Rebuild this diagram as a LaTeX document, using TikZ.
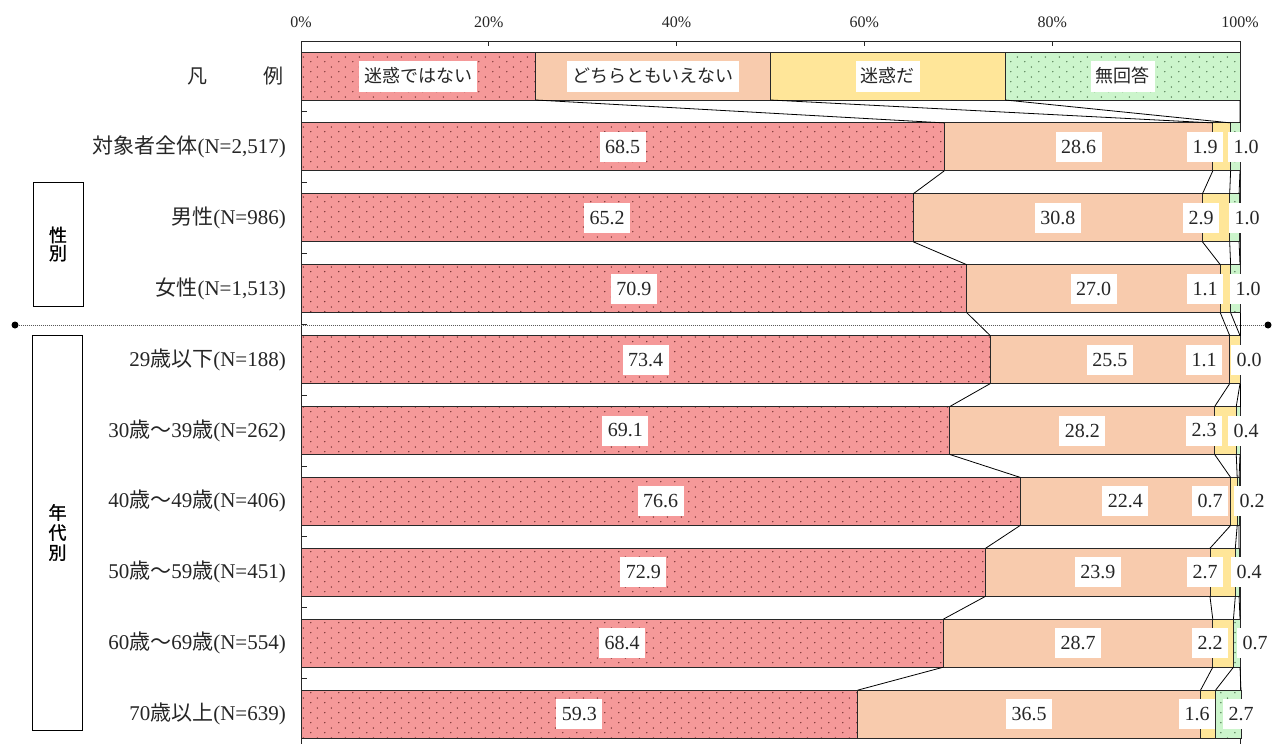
\documentclass[tikz,border=0pt]{standalone}
\usepackage{fontspec}
\setmainfont{Liberation Serif}
\newfontfamily\cjk{Noto Sans CJK JP}
\newfontfamily\cjkb[FakeBold=1.2]{Noto Sans CJK JP}
\usetikzlibrary{patterns.meta}
\definecolor{segA}{RGB}{245,153,153}
\definecolor{segB}{RGB}{248,203,173}
\definecolor{segC}{RGB}{255,230,153}
\definecolor{segD}{RGB}{204,245,204}
\definecolor{dotA}{RGB}{110,45,45}
\definecolor{dotD}{RGB}{70,110,70}
\definecolor{barline}{RGB}{40,40,40}
\tikzdeclarepattern{
  name=sparsedots, type=uncolored,
  bottom left={(0pt,0pt)}, top right={(14pt,10pt)}, tile size={(14pt,10pt)},
  code={\fill (3pt,2.5pt) circle (0.8pt); \fill (10pt,7.5pt) circle (0.8pt);}
}
\newcommand\J[1]{{\cjk #1}}
% #1 idx, #2-#5 values, #6 x of label 3, #7 x of label 4, #8 category
\newcommand\chartrow[8]{%
  \pgfmathsetmacro\cyR{76+#1*70.9}%
  \pgfmathsetmacro\cxB{301+9.39*(#2)}%
  \pgfmathsetmacro\cxC{301+9.39*(#2+#3)}%
  \pgfmathsetmacro\cxD{301+9.39*(#2+#3+#4)}%
  \pgfmathsetmacro\cxE{301+9.39*(#2+#3+#4+#5)}%
  \path[fill=segA, postaction={pattern=sparsedots, pattern color=dotA}] (301,\cyR-24) rectangle (\cxB,\cyR+24);
  \path[fill=segB] (\cxB,\cyR-24) rectangle (\cxC,\cyR+24);
  \path[fill=segC] (\cxC,\cyR-24) rectangle (\cxD,\cyR+24);
  \path[fill=segD, postaction={pattern=sparsedots, pattern color=dotD}] (\cxD,\cyR-24) rectangle (\cxE,\cyR+24);
  \draw[segline] (301,\cyR-24) rectangle (\cxB,\cyR+24);
  \draw[segline] (\cxB,\cyR-24) rectangle (\cxC,\cyR+24);
  \draw[segline] (\cxC,\cyR-24) rectangle (\cxD,\cyR+24);
  \draw[segline] (\cxD,\cyR-24) rectangle (\cxE,\cyR+24);
  \coordinate (r#1-1-t) at (\cxB,\cyR-24); \coordinate (r#1-1-b) at (\cxB,\cyR+24);
  \coordinate (r#1-2-t) at (\cxC,\cyR-24); \coordinate (r#1-2-b) at (\cxC,\cyR+24);
  \coordinate (r#1-3-t) at (\cxD,\cyR-24); \coordinate (r#1-3-b) at (\cxD,\cyR+24);
  \coordinate (r#1-4-t) at (\cxE,\cyR-24); \coordinate (r#1-4-b) at (\cxE,\cyR+24);
  \node[dlab] (v#1-1) at ({(301+\cxB)/2},\cyR) {#2};
  \node[dlab] (v#1-2) at ({(\cxB+\cxC)/2},\cyR) {#3};
  \node[dlab] (v#1-3) at (#6,\cyR) {#4};
  \node[dlab] (v#1-4) at (#7,\cyR) {#5};
  \node[catlab] (c#1) at (286,\cyR) {#8};
}
\begin{document}
\begin{tikzpicture}[x=1pt,y=-1pt,
  segline/.style={draw=barline, line width=0.9pt},
  conn/.style={draw=black, line width=0.8pt},
  axisline/.style={draw=black!85, line width=0.9pt},
  catlab/.style={anchor=east, inner sep=0pt, font=\fontsize{21}{25}\selectfont, text=black!85},
  dlab/.style={fill=white, inner xsep=5.5pt, inner ysep=0pt, minimum height=30pt, font=\fontsize{20}{24}\selectfont, text=black!85},
  leglab/.style={fill=white, inner xsep=5pt, inner ysep=0pt, minimum height=31pt, font=\cjk\fontsize{18}{22}\selectfont, text=black!85},
  axlab/.style={inner sep=0pt, font=\fontsize{16}{18}\selectfont, text=black!85},
  grpbox/.style={draw=black, line width=1pt, minimum width=50pt, inner sep=0pt, align=center, text=black},
  enddot/.style={circle, fill=black, inner sep=0pt, minimum size=7pt}]
\useasboundingbox (0,0) rectangle (1281,744);

% frame and axis
\draw[axisline] (301,41) -- (1240,41);
\draw[axisline] (301,41) -- (301,744);
\draw[axisline] (1240,41) -- (1240,744);
\foreach \p in {0,20,40,60,80,100}{
  \draw[axisline] ({301+9.39*\p},41) -- ({301+9.39*\p},46);
  \node[axlab] (ax\p) at ({301+9.39*\p},22) {\p\%};
}
\foreach \k in {0,...,8}{
  \draw[axisline] (301,{111.45+\k*70.9}) -- (307,{111.45+\k*70.9});
}

% group boxes and separator
\node[grpbox, minimum height=124pt, font=\cjkb\fontsize{18}{18}\selectfont] (g1) at (58,244) {性\\別};
\node[grpbox, minimum height=395pt, font=\cjkb\fontsize{18}{20}\selectfont] (g2) at (57.5,532.5) {年\\代\\別};
\node[enddot] (dl) at (15,325) {};
\node[enddot] (dr) at (1268,325) {};
\draw[black!65, line width=0.8pt, dash pattern=on 1pt off 1pt] (dl) -- (dr);

% legend row
\path[fill=segA, postaction={pattern=sparsedots, pattern color=dotA}] (301,52) rectangle (535.75,100);
\path[fill=segB] (535.75,52) rectangle (770.5,100);
\path[fill=segC] (770.5,52) rectangle (1005.25,100);
\path[fill=segD, postaction={pattern=sparsedots, pattern color=dotD}] (1005.25,52) rectangle (1240,100);
\draw[segline] (301,52) rectangle (535.75,100);
\draw[segline] (535.75,52) rectangle (770.5,100);
\draw[segline] (770.5,52) rectangle (1005.25,100);
\draw[segline] (1005.25,52) rectangle (1240,100);
\coordinate (r0-1-b) at (535.75,100);
\coordinate (r0-2-b) at (770.5,100);
\coordinate (r0-3-b) at (1005.25,100);
\coordinate (r0-4-b) at (1240,100);
\node[leglab] (l1) at (418.4,76) {迷惑ではない};
\node[leglab] (l2) at (653.1,76) {どちらともいえない};
\node[leglab] (l3) at (887.9,76) {迷惑だ};
\node[leglab] (l4) at (1122.6,76) {無回答};
\node[catlab, font=\cjk\fontsize{20}{24}\selectfont] (c0) at (284,76) {凡\hspace{56pt}例};

% data rows
\chartrow{1}{68.5}{28.6}{1.9}{1.0}{1205}{1246}{\J{対象者全体}(N=2,517)}
\chartrow{2}{65.2}{30.8}{2.9}{1.0}{1201}{1247}{\J{男性}(N=986)}
\chartrow{3}{70.9}{27.0}{1.1}{1.0}{1205}{1248}{\J{女性}(N=1,513)}
\chartrow{4}{73.4}{25.5}{1.1}{0.0}{1204}{1249}{29\J{歳以下}(N=188)}
\chartrow{5}{69.1}{28.2}{2.3}{0.4}{1204}{1246}{30\J{歳～}39\J{歳}(N=262)}
\chartrow{6}{76.6}{22.4}{0.7}{0.2}{1210}{1252}{40\J{歳～}49\J{歳}(N=406)}
\chartrow{7}{72.9}{23.9}{2.7}{0.4}{1205}{1249}{50\J{歳～}59\J{歳}(N=451)}
\chartrow{8}{68.4}{28.7}{2.2}{0.7}{1210}{1255}{60\J{歳～}69\J{歳}(N=554)}
\chartrow{9}{59.3}{36.5}{1.6}{2.7}{1197}{1241}{70\J{歳以上}(N=639)}

% series lines between bars
\foreach \r in {0,...,8}{
  \pgfmathtruncatemacro\rn{\r+1}
  \foreach \k in {1,...,4}{
    \draw[conn] (r\r-\k-b) -- (r\rn-\k-t);
  }
}
\end{tikzpicture}
\end{document}
